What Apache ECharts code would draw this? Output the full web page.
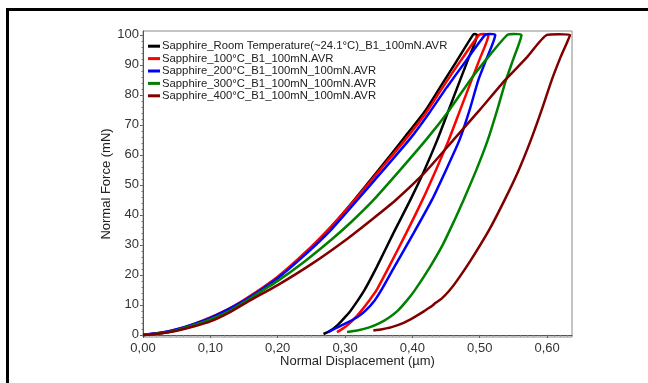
<!DOCTYPE html>
<html>
<head>
<meta charset="utf-8">
<script src="https://cdn.jsdelivr.net/npm/echarts@6/dist/echarts.min.js"></script>
<style>
html,body{margin:0;padding:0;width:648px;height:383px;overflow:hidden;background:#fff;}
#frame{position:absolute;left:6px;top:8px;width:700px;height:500px;border:3px solid #000;box-sizing:border-box;}
#chart{position:absolute;left:0;top:0;width:648px;height:383px;}
</style>
</head>
<body>
<div id="frame"></div>
<div id="chart"></div>
<script>
// ---- data ----
const seriesNames = [
  'Sapphire_Room Temperature(~24.1°C)_B1_100mN.AVR',
  'Sapphire_100°C_B1_100mN.AVR',
  'Sapphire_200°C_B1_100mN_100mN.AVR',
  'Sapphire_300°C_B1_100mN_100mN.AVR',
  'Sapphire_400°C_B1_100mN_100mN.AVR'
];
const seriesColors = ['#000000', '#ff0000', '#0000ff', '#008000', '#800000'];

// [displacement (µm), force (mN)]
const rtLoad = [[0,0],[0.010,0.1],[0.030,0.6],[0.050,1.5],[0.075,3.2],[0.100,5.4],[0.130,8.7],[0.160,12.8],[0.200,19.0],[0.240,27.0],[0.280,36.2],[0.313,44.8],[0.350,55.0],[0.387,65.5],[0.420,75.0],[0.441,82.5],[0.465,91.0],[0.490,100]];
const rtHold = [[0.493,100.3],[0.496,100]];
const rtUnload = [[0.483,92],[0.471,85],[0.454,75],[0.437,65],[0.418,55],[0.397,45],[0.372,34],[0.347,22.6],[0.329,15],[0.319,11.5],[0.308,8],[0.300,5.9],[0.290,3.5],[0.282,2.0],[0.275,1.0],[0.268,0.3]];

const c100Load = [[0,0],[0.010,0.2],[0.030,0.8],[0.050,1.8],[0.075,3.6],[0.100,5.8],[0.130,9.0],[0.160,13.1],[0.200,19.4],[0.240,27.3],[0.280,36.3],[0.313,44.6],[0.350,54.5],[0.391,65.5],[0.420,74.0],[0.445,82.5],[0.472,91.5],[0.499,100]];
const c100Hold = [[0.506,100.3],[0.513,100]];
const c100Unload = [[0.500,92],[0.488,85],[0.471,75],[0.454,65],[0.435,55],[0.415,45],[0.391,34],[0.365,22.6],[0.347,15],[0.336,11.5],[0.324,8],[0.316,5.9],[0.305,3.5],[0.296,2.0],[0.288,0.9]];

const c200Load = [[0,0],[0.010,0.3],[0.030,0.9],[0.050,1.9],[0.075,3.6],[0.100,5.7],[0.130,8.9],[0.160,12.8],[0.200,19.0],[0.240,26.6],[0.280,35.2],[0.318,44.9],[0.355,54.5],[0.397,65.5],[0.425,74.0],[0.451,82.5],[0.480,91.5],[0.508,100]];
const c200Hold = [[0.515,100.3],[0.523,100]];
const c200Unload = [[0.510,92],[0.498,85],[0.485,75],[0.470,65],[0.450,55],[0.429,45],[0.402,34],[0.373,22.6],[0.354,15],[0.344,11.5],[0.330,8],[0.318,5.9],[0.298,3.5],[0.284,2.0],[0.275,0.9]];

const c300Load = [[0,0],[0.010,0.2],[0.030,0.7],[0.050,1.6],[0.075,3.2],[0.100,5.2],[0.130,8.2],[0.160,12.3],[0.200,18.0],[0.240,24.5],[0.280,31.8],[0.310,37.8],[0.342,44.9],[0.380,54.5],[0.422,65.5],[0.455,75.0],[0.486,85.0],[0.514,93.0],[0.541,100]];
const c300Hold = [[0.551,100.3],[0.562,100]];
const c300Unload = [[0.550,92],[0.539,85],[0.526,75],[0.512,65],[0.495,55],[0.476,45],[0.462,38],[0.445,30],[0.426,22.6],[0.404,15],[0.392,11.5],[0.378,8],[0.366,5.9],[0.352,4],[0.336,2.5],[0.318,1.5],[0.303,1.0]];

const c400Load = [[0,0],[0.010,0.1],[0.030,0.6],[0.050,1.4],[0.075,2.8],[0.100,4.5],[0.130,7.7],[0.159,11.5],[0.200,16.6],[0.250,23.6],[0.300,31.5],[0.340,38.5],[0.375,44.9],[0.420,54.5],[0.461,65.0],[0.500,75.0],[0.538,85.0],[0.570,92.5],[0.600,100]];
const c400Hold = [[0.617,100.2],[0.634,100]];
const c400Unload = [[0.619,92],[0.607,85],[0.592,75],[0.576,65],[0.558,55],[0.537,45],[0.514,35],[0.487,25],[0.466,18],[0.455,14.8],[0.443,12],[0.434,10.6],[0.429,9.6],[0.418,8],[0.403,5.9],[0.387,4],[0.368,2.5],[0.355,1.9],[0.342,1.5]];

const xTickValues = [0, 0.1, 0.2, 0.3, 0.4, 0.5, 0.6];
const xTickLabels = ['0,00', '0,10', '0,20', '0,30', '0,40', '0,50', '0,60'];
const yTickValues = [0, 10, 20, 30, 40, 50, 60, 70, 80, 90, 100];
const yTickLabels = ['0', '10', '20', '30', '40', '50', '60', '70', '80', '90', '100'];
const xName = 'Normal Displacement (µm)';
const yName = 'Normal Force (mN)';

// ---- chart ----
const curves = [
  rtLoad.concat(rtHold, rtUnload),
  c100Load.concat(c100Hold, c100Unload),
  c200Load.concat(c200Hold, c200Unload),
  c300Load.concat(c300Hold, c300Unload),
  c400Load.concat(c400Hold, c400Unload)
];
const X_MIN = 0, X_MAX = 0.637, Y_MIN = -0.7, Y_MAX = 101.3;
const xMinor = [], yMinor = [];
for (let i = 0; i <= 63; i++) xMinor.push(+(i * 0.01).toFixed(3));
for (let i = 0; i <= 50; i++) yMinor.push(i * 2);

const font = 'Liberation Sans, Arial, sans-serif';
const chart = echarts.init(document.getElementById('chart'), null, {renderer: 'canvas'});
chart.setOption({
  animation: false,
  backgroundColor: 'transparent',
  grid: {left: 143, top: 31, right: 76, bottom: 46, show: true, borderColor: '#8a8a8a', borderWidth: 1},
  legend: {
    show: true, orient: 'vertical', left: 143, top: 35,
    itemWidth: 12, itemHeight: 3, itemGap: 0, icon: 'rect',
    textStyle: {fontFamily: font, fontSize: 11.3, color: '#222', lineHeight: 12.4, padding: [0, 0, 0, -3]},
    data: seriesNames
  },
  xAxis: [{
    type: 'value', min: X_MIN, max: X_MAX, gridIndex: 0,
    name: xName, nameLocation: 'middle', nameGap: 17.5, nameMoveOverlap: false,
    nameTextStyle: {fontFamily: font, fontSize: 13, color: '#222'},
    axisLine: {show: true, lineStyle: {color: '#555', width: 1}},
    axisTick: {show: true, customValues: xTickValues, length: 3, lineStyle: {color: '#555'}},
    axisLabel: {show: true, customValues: xTickValues, margin: 5, fontFamily: font, fontSize: 13, color: '#333',
      formatter: v => xTickLabels[xTickValues.findIndex(t => Math.abs(t - v) < 1e-6)]},
    splitLine: {show: false}
  }, {
    type: 'value', min: X_MIN, max: X_MAX, gridIndex: 0, position: 'bottom',
    axisLine: {show: false}, axisLabel: {show: false}, splitLine: {show: false},
    axisTick: {show: true, customValues: xMinor, length: 1.5, lineStyle: {color: '#777'}}
  }],
  yAxis: [{
    type: 'value', min: Y_MIN, max: Y_MAX, gridIndex: 0,
    name: yName, nameLocation: 'middle', nameGap: 30, nameRotate: 90, nameMoveOverlap: false,
    nameTextStyle: {fontFamily: font, fontSize: 13, color: '#222'},
    axisLine: {show: true, lineStyle: {color: '#555', width: 1}},
    axisTick: {show: true, customValues: yTickValues, length: 3, lineStyle: {color: '#555'}},
    axisLabel: {show: true, customValues: yTickValues, margin: 4, fontFamily: font, fontSize: 13, color: '#333',
      formatter: v => yTickLabels[yTickValues.findIndex(t => Math.abs(t - v) < 1e-6)]},
    splitLine: {show: false}
  }, {
    type: 'value', min: Y_MIN, max: Y_MAX, gridIndex: 0, position: 'left',
    axisLine: {show: false}, axisLabel: {show: false}, splitLine: {show: false},
    axisTick: {show: true, customValues: yMinor, length: 1.5, lineStyle: {color: '#777'}}
  }],
  series: curves.map((d, i) => ({
    name: seriesNames[i], type: 'line', xAxisIndex: 0, yAxisIndex: 0,
    data: d, showSymbol: false, symbol: 'none', smooth: 0.2,
    color: seriesColors[i],
    lineStyle: {color: seriesColors[i], width: 2.5}
  }))
});
</script>
</body>
</html>
